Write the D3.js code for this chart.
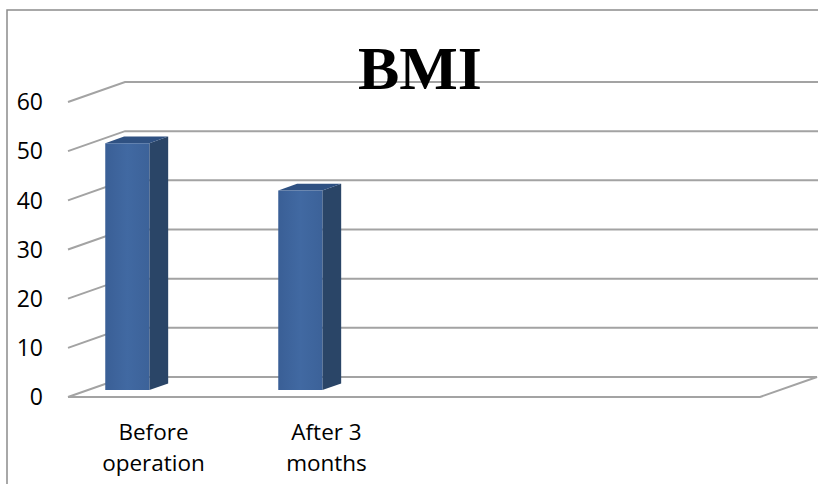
<!DOCTYPE html>
<html>
<head>
<meta charset="utf-8">
<script src="https://cdn.jsdelivr.net/npm/d3@7"></script>
<style>
  body { margin: 0; background: #fff; }
  svg { display: block; }
</style>
</head>
<body>
<svg width="818" height="484"></svg>
<script>
// chart data
const categories = ["Before operation", "After 3 months", "", ""];
const catLines = [["Before", "operation"], ["After 3", "months"], [], []];
const bmiValues = [50.2, 40.6];
const yTicks = [0, 10, 20, 30, 40, 50, 60];

const svg = d3.select("svg");
const W = 818, H = 484;

// front plane of the 3D box
const x = d3.scaleBand().domain(d3.range(categories.length)).range([68, 760]);
const y = d3.scaleLinear().domain([0, 60]).range([397, 102]);

// depth offset of the back wall
const depthX = 57, depthY = -20;
const proj = (px, py, d) => [px + depthX * d, py + depthY * d];

// frame
svg.append("path")
  .attr("d", `M7,${H} L7,10 L${W},10`)
  .attr("fill", "none")
  .attr("stroke", "#8c8c8c")
  .attr("stroke-width", 1.5);

// gridlines (side wall slant + back wall)
const grid = svg.append("g")
  .attr("fill", "none")
  .attr("stroke", "#a3a3a3")
  .attr("stroke-width", 2);

yTicks.forEach(v => {
  const x0 = x.range()[0], x1 = x.range()[1];
  const a = [x0, y(v)], b = proj(x0, y(v), 1), c = proj(x1, y(v), 1);
  let pts = [a, b, [W, b[1]]];
  if (v === 0) pts = [a, b, c, [x1, y(v)], a];
  grid.append("path").attr("d", d3.line()(pts));
});

// bars
const defs = svg.append("defs");
const grad = defs.append("linearGradient").attr("id", "front");
grad.append("stop").attr("offset", "0%").attr("stop-color", "#3a5f96");
grad.append("stop").attr("offset", "50%").attr("stop-color", "#4169a2");
grad.append("stop").attr("offset", "100%").attr("stop-color", "#3c6299");

const d0 = 0.35, d1 = 0.68;
const barW = x.bandwidth() * 0.255;
const bars = svg.append("g");
bmiValues.forEach((v, i) => {
  const left = x(i) + x.bandwidth() * 0.1;
  const right = left + barW;
  const fTL = proj(left, y(v), d0), fTR = proj(right, y(v), d0);
  const fBL = proj(left, y(0), d0), fBR = proj(right, y(0), d0);
  const bTL = proj(left, y(v), d1), bTR = proj(right, y(v), d1);
  const bBR = proj(right, y(0), d1);
  // side
  bars.append("path").attr("d", d3.line()([fTR, bTR, bBR, fBR]) + "Z")
    .attr("fill", "#2a4567");
  // top
  bars.append("path").attr("d", d3.line()([fTL, fTR, bTR, bTL]) + "Z")
    .attr("fill", "#2f5182");
  // front
  bars.append("path").attr("d", d3.line()([fTL, fTR, fBR, fBL]) + "Z")
    .attr("fill", "url(#front)");
});

// y axis labels
svg.append("g")
  .selectAll("text")
  .data(yTicks)
  .join("text")
  .attr("x", 43)
  .attr("y", d => y(d))
  .attr("dy", "0.36em")
  .attr("text-anchor", "end")
  .attr("font-family", "Open Sans, sans-serif")
  .attr("font-size", 23)
  .attr("fill", "#000")
  .text(d => d);

// category labels
const catLabels = svg.append("g")
  .attr("font-family", "Open Sans, sans-serif")
  .attr("font-size", 22.5)
  .attr("text-anchor", "middle");
catLines.forEach((lines, i) => {
  const cx = x(i) + x.bandwidth() / 2 - 1;
  const t = catLabels.append("text").attr("x", cx).attr("y", 440);
  lines.forEach((ln, k) => {
    t.append("tspan").attr("x", cx).attr("dy", k === 0 ? 0 : 31).text(ln);
  });
});

// title
svg.append("text")
  .attr("x", 420)
  .attr("y", 89)
  .attr("text-anchor", "middle")
  .attr("font-family", "Liberation Serif, Times New Roman, serif")
  .attr("font-weight", "bold")
  .attr("font-size", 62)
  .text("BMI");
</script>
</body>
</html>
